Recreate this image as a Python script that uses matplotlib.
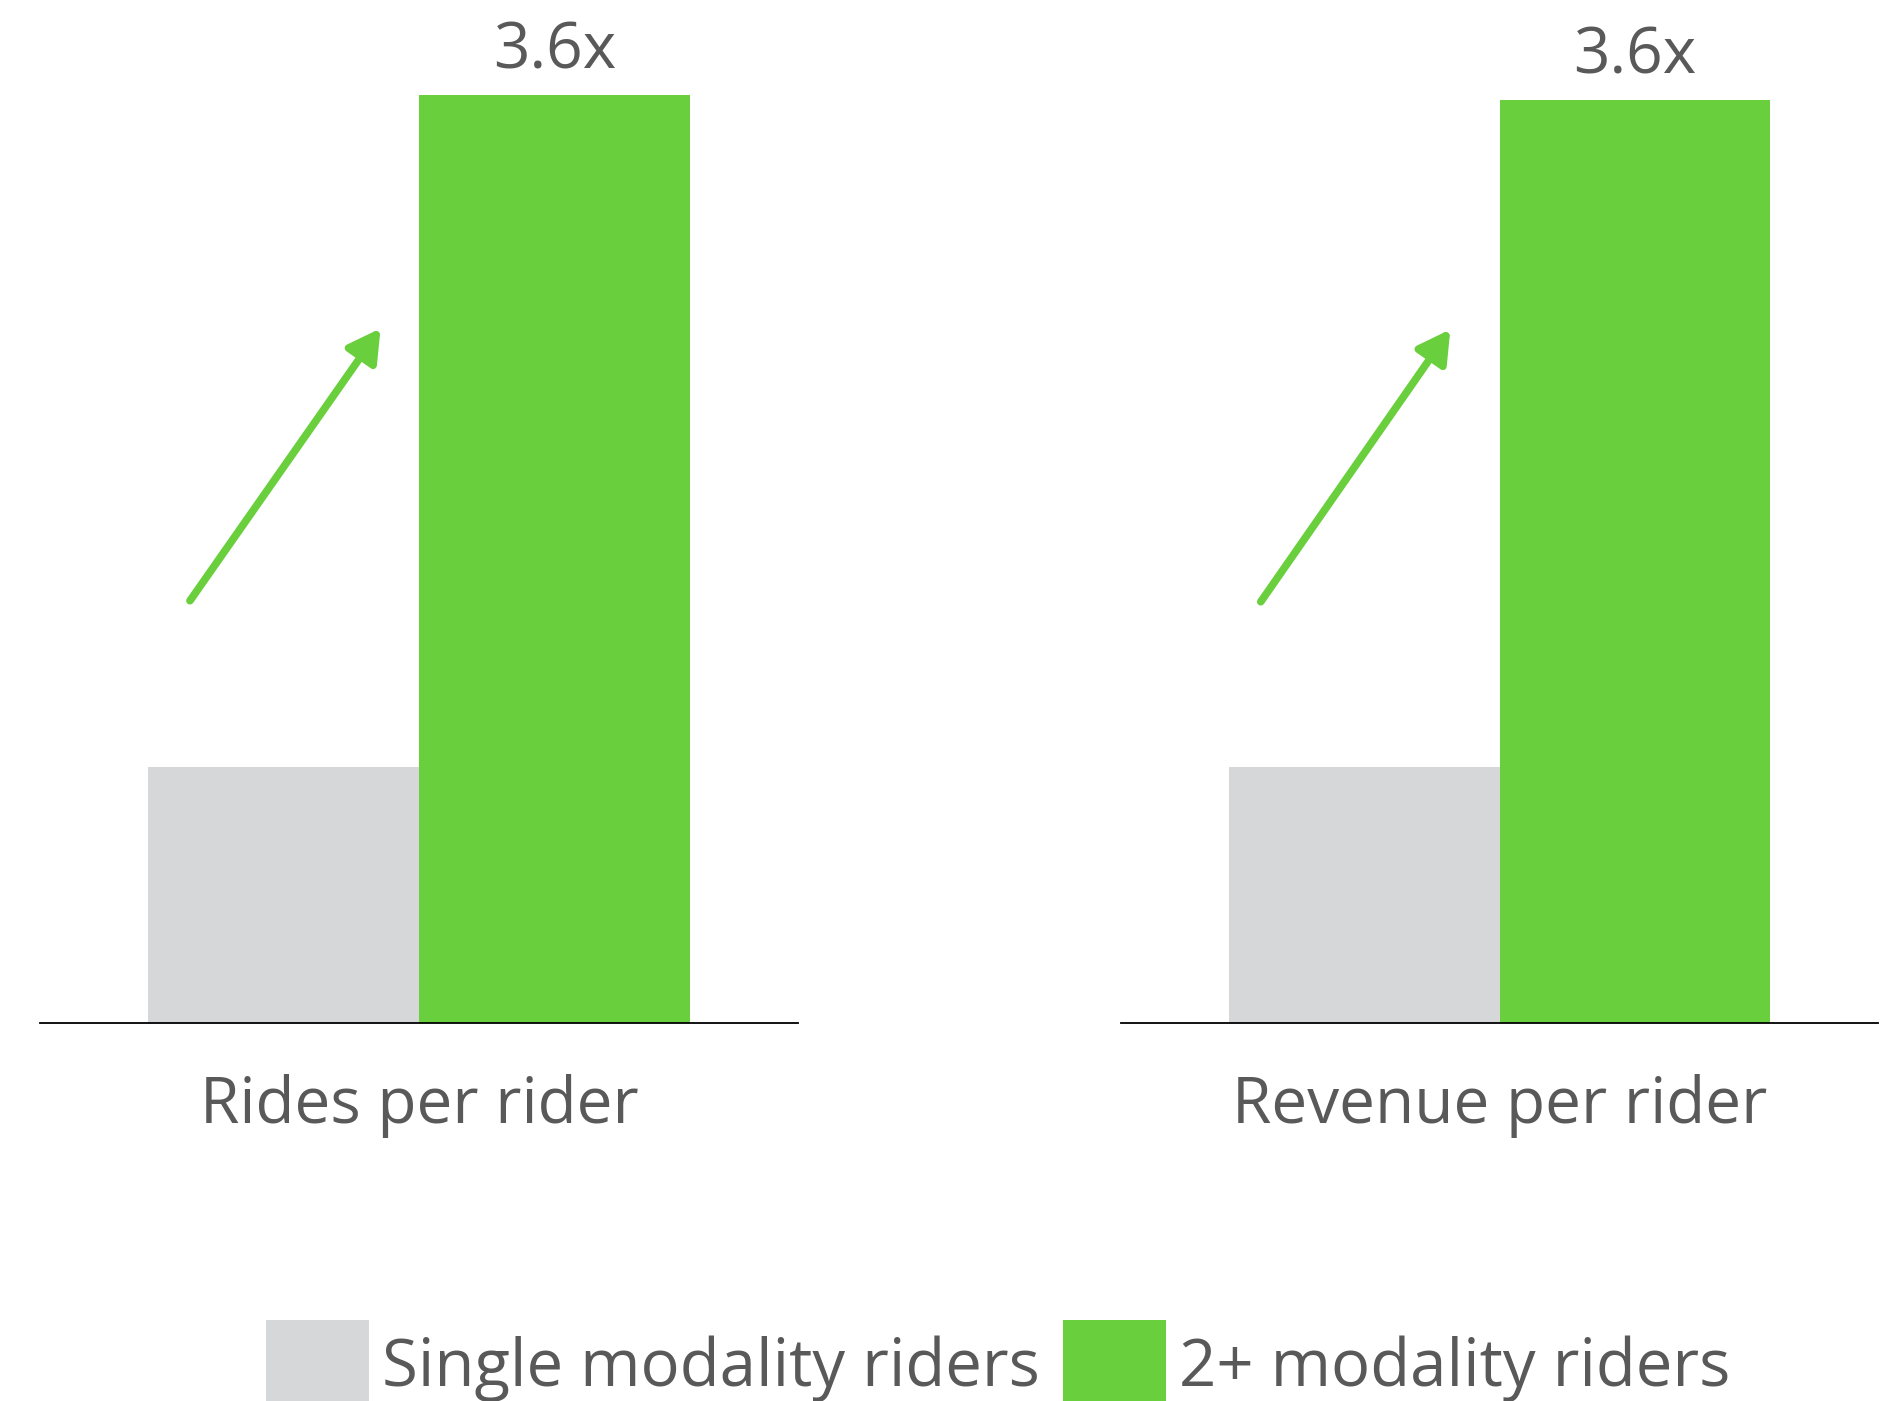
import matplotlib.pyplot as plt
from matplotlib.patches import Patch
import matplotlib.patheffects as pe

# data
panels = ['Rides per rider', 'Revenue per rider']
single_modality = [1.0, 1.0]
multi_modality = [3.62, 3.60]
uplift_labels = ['3.6x', '3.6x']
legend_labels = ['Single modality riders', '2+ modality riders']

gray = '#d6d7d9'
green = '#6acf3d'
text_color = '#595959'
plt.rcParams['font.family'] = ['Open Sans', 'DejaVu Sans']
fs = 46

W, H = 1896, 1401
fig = plt.figure(figsize=(W / 100, H / 100), dpi=100)

# axes boxes in pixels (left, axis line y, width)
boxes = [(40, 1023, 758), (1121, 1023, 757)]
# arrow tail / tip in data units
arrows = [((-0.846, 1.647), (-0.142, 2.709)), ((-0.883, 1.643), (-0.182, 2.705))]

for i, (left, base, width) in enumerate(boxes):
    ax = fig.add_axes([left / W, (H - base) / H, width / W, base / H])
    ax.bar([-0.5], [single_modality[i]], width=1.0, color=gray)
    ax.bar([0.5], [multi_modality[i]], width=1.0, color=green)
    ax.set_xlim(-1.4, 1.4)
    ax.set_ylim(0, 3.99)
    for s in ['top', 'right', 'left']:
        ax.spines[s].set_visible(False)
    ax.spines['bottom'].set_linewidth(1.3)
    ax.spines['bottom'].set_color('black')
    ax.set_yticks([])
    ax.set_xticks([])

    ax.annotate(uplift_labels[i], xy=(0.5, multi_modality[i]), xytext=(0, 19),
                textcoords='offset points', ha='center', va='baseline',
                fontsize=fs, color=text_color)
    ax.annotate(panels[i], xy=(0, 0), xytext=(0, -72), textcoords='offset points',
                ha='center', va='baseline', fontsize=fs, color=text_color,
                annotation_clip=False)

    tail, tip = arrows[i]
    arr = ax.annotate('', xy=tip, xytext=tail,
                      arrowprops=dict(arrowstyle='-|>,head_length=0.8,head_width=0.45',
                                      mutation_scale=24, lw=5.5, color=green,
                                      shrinkA=0, shrinkB=0))
    arr.arrow_patch.set_path_effects([
        pe.SimplePatchShadow(offset=(1.5, -1.5), shadow_rgbFace='#888888', alpha=0.35),
        pe.Normal()])

handles = [Patch(facecolor=gray, edgecolor='none'), Patch(facecolor=green, edgecolor='none')]
leg = fig.legend(handles, legend_labels, ncol=2, frameon=False,
                 loc='upper left', bbox_to_anchor=(266 / W, 1 - 1320 / H),
                 fontsize=47, handlelength=1.58, handleheight=1.75,
                 handletextpad=0.2, columnspacing=0.35,
                 borderpad=0, borderaxespad=0)
for t in leg.get_texts():
    t.set_color(text_color)

fig.savefig('out.png', dpi=100)
